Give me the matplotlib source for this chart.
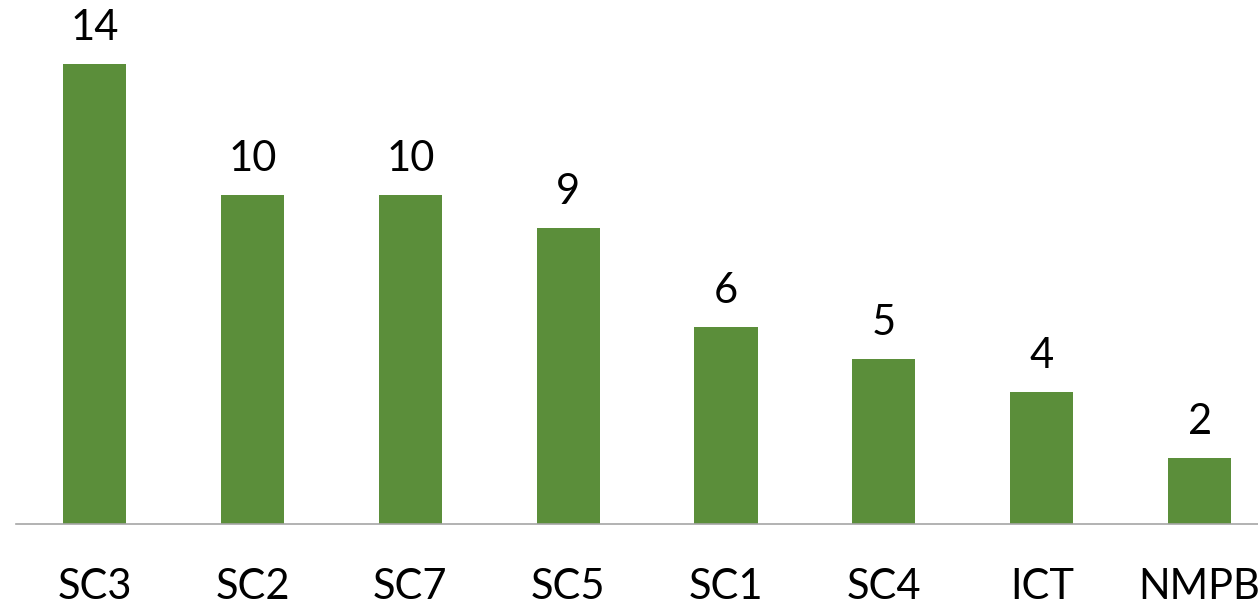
from matplotlib import pyplot as plt

categories = ["SC3", "SC2", "SC7", "SC5", "SC1", "SC4", "ICT", "NMPB"]
counts = [14, 10, 10, 9, 6, 5, 4, 2]

BAR_COLOR = "#5B8E3A"
AXIS_COLOR = "#A6A6A6"

plt.rcParams['font.family'] = ['Lato', 'DejaVu Sans']

fig = plt.figure(figsize=(12.58, 6.07), dpi=100)
# axes runs a bit past the right edge, as in the cropped original
ax = fig.add_axes([15.6 / 1258, 83.5 / 607, 1263 / 1258, 523.5 / 607])

x = list(range(len(categories)))
ax.bar(x, counts, width=0.4, color=BAR_COLOR)

ax.set_xlim(-0.5, len(categories) - 0.5)
ax.set_ylim(0, 523.5 / 32.82)

for xi, v in zip(x, counts):
    ax.annotate(str(v), (xi, v), xytext=(0, 17.3), textcoords="offset points",
                ha="center", va="baseline", fontsize=30, color="black")

ax.set_xticks(x)
ax.set_xticklabels(categories, fontsize=30)
for lbl in ax.get_xticklabels():
    lbl.set_va("baseline")
ax.tick_params(axis="x", length=0, pad=54.5)
ax.set_yticks([])

for side in ["top", "right", "left"]:
    ax.spines[side].set_visible(False)
ax.spines["bottom"].set_color(AXIS_COLOR)
ax.spines["bottom"].set_linewidth(1.2)

fig.savefig("out.png", dpi=100)
